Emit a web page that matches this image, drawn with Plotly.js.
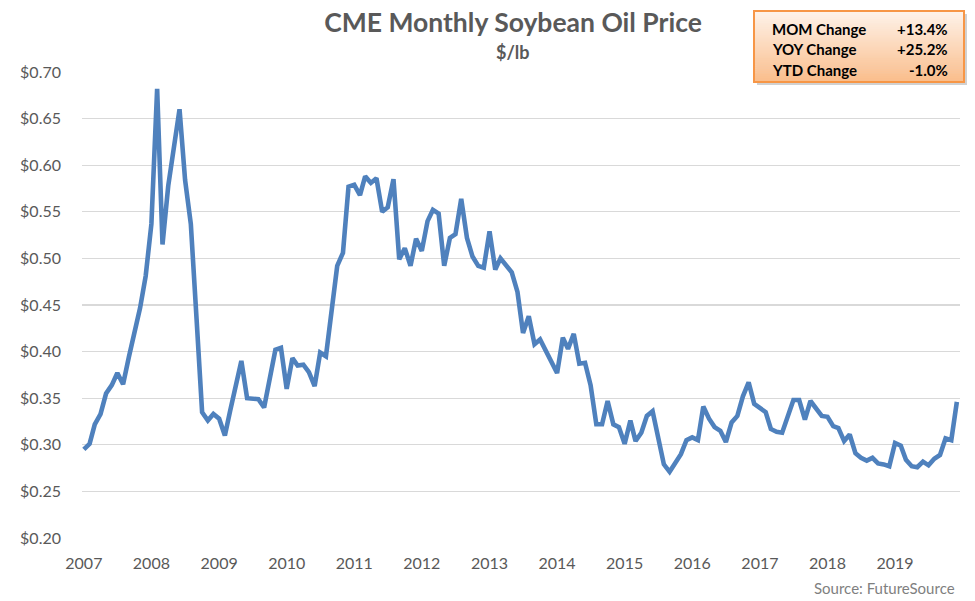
<!DOCTYPE html>
<html>
<head>
<meta charset="utf-8">
<script src="https://cdn.plot.ly/plotly-3.0.1.min.js"></script>
<style>html,body{margin:0;padding:0;background:#fff;}#chart{width:975px;height:601px;}</style>
</head>
<body>
<div id="chart"></div>
<script>
// ---- data (monthly, Jan 2007 - Dec 2019) ----
var startYear = 2007;
var prices = [
  0.295,0.301,0.322,0.333,0.355,0.364,0.377,0.365,0.394,0.420,0.447,0.481,
  0.537,0.682,0.515,0.578,0.615,0.660,0.584,0.537,0.435,0.335,0.326,0.333,
  0.328,0.310,0.336,0.364,0.390,0.350,0.350,0.349,0.340,0.369,0.402,0.404,
  0.360,0.393,0.385,0.386,0.378,0.363,0.399,0.395,0.445,0.492,0.506,0.577,
  0.579,0.568,0.588,0.581,0.586,0.550,0.555,0.585,0.499,0.511,0.492,0.521,
  0.508,0.540,0.552,0.548,0.492,0.522,0.526,0.564,0.522,0.502,0.492,0.490,
  0.529,0.488,0.500,0.492,0.485,0.464,0.420,0.438,0.408,0.413,0.401,0.389,
  0.377,0.415,0.403,0.419,0.387,0.388,0.364,0.322,0.322,0.347,0.322,0.319,
  0.301,0.326,0.304,0.313,0.331,0.336,0.306,0.279,0.271,0.281,0.290,0.305,
  0.308,0.305,0.341,0.328,0.319,0.315,0.303,0.324,0.331,0.352,0.367,0.344,
  0.339,0.335,0.317,0.314,0.313,0.330,0.348,0.348,0.327,0.347,0.338,0.331,
  0.330,0.320,0.318,0.304,0.311,0.291,0.286,0.283,0.286,0.280,0.279,0.277,
  0.302,0.299,0.284,0.277,0.276,0.282,0.278,0.285,0.289,0.307,0.305,0.346
];
var yearLabels = ['2007','2008','2009','2010','2011','2012','2013','2014','2015','2016','2017','2018','2019'];
var yTicks = [0.20,0.25,0.30,0.35,0.40,0.45,0.50,0.55,0.60,0.65,0.70];
var statLabels = ['MOM Change','YOY Change','YTD Change'];
var statValues = ['+13.4%','+25.2%','-1.0%'];

// month dates
var dates = prices.map(function(_, i){
  var y = startYear + Math.floor(i/12), m = (i%12)+1;
  return y + '-' + (m<10?'0':'') + m + '-01';
});
var yearTickVals = yearLabels.map(function(y){ return y + '-01-01'; });

// ---- pixel helpers for layout ----
var W = 975, H = 601, L = 82, R = 15, T = 72, B = 63;
var PW = W - L - R, PH = H - T - B;
function px(x){ return (x - L) / PW; }
function py(y){ return (H - B - y) / PH; }

var FONT = 'Lato, "Open Sans", sans-serif';

var shapes = [];
// shadow
shapes.push({type:'rect', xref:'paper', yref:'paper', x0:px(757), x1:px(967), y0:py(85), y1:py(14),
  fillcolor:'rgba(0,0,0,0.18)', line:{width:0}, layer:'above'});
// gradient strips
var bx0 = 754, bx1 = 964, by0 = 11, by1 = 82, nStrips = 36;
var c0 = [254,242,233], c1 = [250,190,140];
for (var s = 0; s < nStrips; s++) {
  var t = s / (nStrips - 1);
  var col = 'rgb(' + Math.round(c0[0]+(c1[0]-c0[0])*t) + ',' + Math.round(c0[1]+(c1[1]-c0[1])*t) + ',' + Math.round(c0[2]+(c1[2]-c0[2])*t) + ')';
  var ya = by0 + (by1-by0)*s/nStrips, yb = by0 + (by1-by0)*(s+1)/nStrips + 0.6;
  shapes.push({type:'rect', xref:'paper', yref:'paper', x0:px(bx0), x1:px(bx1), y0:py(yb), y1:py(ya),
    fillcolor:col, line:{width:0}, layer:'above'});
}
// border
shapes.push({type:'rect', xref:'paper', yref:'paper', x0:px(bx0), x1:px(bx1), y0:py(by1), y1:py(by0),
  fillcolor:'rgba(0,0,0,0)', line:{color:'#F79646', width:2}, layer:'above'});

var annotations = [];
var rowY = [29, 49, 70];
statLabels.forEach(function(lbl, i){
  annotations.push({xref:'paper', yref:'paper', x:px(770), y:py(rowY[i]), xanchor:'left', yanchor:'middle',
    text:'<b>'+lbl+'</b>', showarrow:false, font:{family:FONT, size:15, color:'#000'}});
  annotations.push({xref:'paper', yref:'paper', x:px(950), y:py(rowY[i]), xanchor:'right', yanchor:'middle',
    text:'<b>'+statValues[i]+'</b>', showarrow:false, font:{family:FONT, size:15, color:'#000'}});
});
// subtitle
annotations.push({xref:'paper', yref:'paper', x:px(513), y:py(52), xanchor:'center', yanchor:'middle',
  text:'<b>$/lb</b>', showarrow:false, font:{family:FONT, size:18, color:'#595959'}});
// source
annotations.push({xref:'paper', yref:'paper', x:px(957), y:py(588), xanchor:'right', yanchor:'middle',
  text:'Source: FutureSource', showarrow:false, font:{family:FONT, size:15, color:'#7F7F7F'}});

var trace = {
  x: dates, y: prices, type:'scatter', mode:'lines',
  line:{color:'#4F81BD', width:4.6}, hoverinfo:'skip'
};

var layout = {
  width: W, height: H,
  margin:{l:L, r:R, t:T, b:B, pad:0},
  paper_bgcolor:'#fff', plot_bgcolor:'#fff',
  showlegend:false,
  title:{text:'<b>CME Monthly Soybean Oil Price</b>', font:{family:FONT, size:26.5, color:'#595959'},
    x:513/W, xanchor:'center', xref:'container', y:1-23/H, yanchor:'middle', yref:'container'},
  xaxis:{type:'date', range:['2006-12-22','2019-12-18'], tickmode:'array', tickvals:yearTickVals, ticktext:yearLabels,
    showgrid:false, zeroline:false, showline:false, ticks:'', ticklabelstandoff:14,
    tickfont:{family:FONT, size:16, color:'#595959'}, fixedrange:true},
  yaxis:{range:[0.2,0.7], tickmode:'array', tickvals:yTicks, tickformat:'$.2f',
    showgrid:true, gridcolor:'#D9D9D9', gridwidth:1.3, zeroline:false, showline:false, ticks:'',
    ticklabelstandoff:20, tickfont:{family:FONT, size:16, color:'#595959'}, fixedrange:true},
  shapes: shapes,
  annotations: annotations
};

Plotly.newPlot('chart', [trace], layout, {staticPlot:true, displayModeBar:false});
</script>
</body>
</html>
